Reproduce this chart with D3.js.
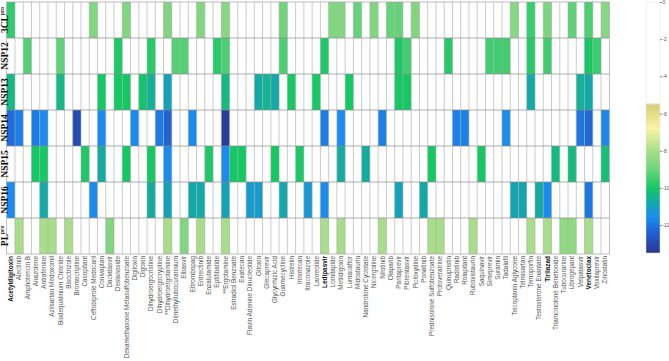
<!DOCTYPE html>
<html>
<head>
<meta charset="utf-8">
<script src="https://cdn.jsdelivr.net/npm/d3@7"></script>
<style>
  body { margin: 0; background: #fff; }
</style>
</head>
<body>
<div id="vis"></div>
<script>
const drugs = ["Acetyldigitoxin", "Alectinib", "Amphotericin B", "Anazolene", "Antrafenine",
  "Azilsartan Medoxomil", "Bisdequalinium Chloride", "Bisoctrizole", "Bromocriptine", "Casopitant",
  "Ceftobiprole Medocaril", "Conivaptan", "Daclatasvir", "Deslanoside", "Dexamethasone Metasulfobenzoate",
  "Digitoxin", "Digoxin", "Dihydroergocristine", "Dihydroergocryptine", "**Dihydroergotamine",
  "Dimethyltubocurarinium", "Elbasvir", "Eltrombopag", "Entrectinib", "Enzalutamide",
  "Eptifibatide", "**Ergotamine", "Estradiol Benzoate", "Exatecan", "Flavin Adenine Dinucleotide",
  "Gitoxin", "Glecaprevir", "Glycyrrhizic Acid", "Guamecycline", "Histrelin",
  "Irinotecan", "Itraconazole", "Lanreotide", "Ledipasvir", "Lomitapide",
  "Metildigoxin", "Lumacaftor", "Midostaurin", "Nandrolone Cyclotate", "Nicergoline",
  "Nilotinib", "Olaparib", "Paritaprevir", "Pibrentasvir", "Picloxydine",
  "Ponatinib", "Prednisolone Sulfobenzoate", "Protoveratrine", "Quinupristin", "Radotinib",
  "Rolapitant", "Ruboxistaurin", "Saquinavir", "Simeprevir", "Suramin",
  "Tadalafil", "Teicoplanin Aglycone", "Telmisartan", "Temoporfin", "Testosterone Enantate",
  "Tirilazad", "Triamcinolone Benetonide", "Tubocurarine", "Ubrogepant", "Velpatasvir",
  "Venetoclax", "Voxilaprevir", "Zinostatin"];

const boldDrugs = ["Acetyldigitoxin", "Ledipasvir", "Tirilazad", "Venetoclax"];

const targets = ["3CLpro", "NSP12", "NSP13", "NSP14", "NSP15", "NSP16", "PLpro"];

// docking scores (kcal/mol), top hits per target
const hits3CL = [["Acetyldigitoxin", -9.7], ["Ceftobiprole Medocaril", -8.7], ["Dexamethasone Metasulfobenzoate", -8.7],
  ["**Dihydroergotamine", -8.7], ["Entrectinib", -8.7], ["**Ergotamine", -8.6], ["Guamecycline", -9.0],
  ["Lomitapide", -8.7], ["Metildigoxin", -8.7], ["Midostaurin", -9.1], ["Nicergoline", -8.7],
  ["Olaparib", -9.1], ["Paritaprevir", -9.1], ["Picloxydine", -8.7], ["Teicoplanin Aglycone", -8.6],
  ["Temoporfin", -9.6], ["Tirilazad", -8.8], ["Ubrogepant", -9.2], ["Venetoclax", -9.4], ["Zinostatin", -8.6]];

const hitsNSP12 = [["Amphotericin B", -9.3], ["Bisdequalinium Chloride", -9.2], ["Deslanoside", -9.9],
  ["Dihydroergocristine", -9.8], ["Dimethyltubocurarinium", -9.3], ["Elbasvir", -9.3], ["Eptifibatide", -9.8],
  ["**Ergotamine", -9.4], ["Guamecycline", -9.4], ["Ledipasvir", -9.9], ["Paritaprevir", -9.9],
  ["Pibrentasvir", -9.5], ["Quinupristin", -9.8], ["Simeprevir", -9.5], ["Suramin", -9.5],
  ["Tadalafil", -9.5], ["Temoporfin", -9.8], ["Tirilazad", -9.5], ["Venetoclax", -10.0], ["Voxilaprevir", -9.6]];

const hitsNSP13 = [["Acetyldigitoxin", -10.4], ["Bisdequalinium Chloride", -10.4], ["Conivaptan", -10.0],
  ["Deslanoside", -10.0], ["Dexamethasone Metasulfobenzoate", -10.0], ["Digoxin", -10.1],
  ["Dihydroergocristine", -10.6], ["**Dihydroergotamine", -11.0], ["**Ergotamine", -10.3], ["Gitoxin", -10.8],
  ["Glecaprevir", -10.5], ["Glycyrrhizic Acid", -10.8], ["Histrelin", -10.0], ["Lanreotide", -10.0],
  ["Lumacaftor", -10.0], ["Paritaprevir", -10.0], ["Pibrentasvir", -10.0], ["Temoporfin", -10.8],
  ["Velpatasvir", -10.6], ["Venetoclax", -10.8]];

const hitsNSP14 = [["Acetyldigitoxin", -12.2], ["Alectinib", -11.8], ["Anazolene", -11.9], ["Antrafenine", -11.6],
  ["Bromocriptine", -12.9], ["Conivaptan", -11.6], ["Digitoxin", -11.6], ["Dihydroergocryptine", -11.9],
  ["**Dihydroergotamine", -12.4], ["Eltrombopag", -11.6], ["**Ergotamine", -13.3], ["Ledipasvir", -11.8],
  ["Metildigoxin", -11.6], ["Nilotinib", -11.8], ["Radotinib", -11.8], ["Rolapitant", -11.8],
  ["Tadalafil", -11.6], ["Velpatasvir", -12.0], ["Venetoclax", -12.3], ["Zinostatin", -11.7]];

const hitsNSP15 = [["Anazolene", -10.0], ["Antrafenine", -10.0], ["Casopitant", -9.9], ["Conivaptan", -10.7],
  ["Dexamethasone Metasulfobenzoate", -10.0], ["Dihydroergocristine", -10.0], ["**Dihydroergotamine", -11.6],
  ["Enzalutamide", -9.9], ["**Ergotamine", -11.6], ["Estradiol Benzoate", -10.0], ["Exatecan", -10.0],
  ["Glycyrrhizic Acid", -10.0], ["Irinotecan", -9.9], ["Metildigoxin", -10.7], ["Nandrolone Cyclotate", -10.7],
  ["Prednisolone Sulfobenzoate", -10.0], ["Saquinavir", -10.0], ["Triamcinolone Benetonide", -10.3],
  ["Ubrogepant", -10.3], ["Zinostatin", -10.2]];

const hitsNSP16 = [["Acetyldigitoxin", -11.6], ["Antrafenine", -10.8], ["Ceftobiprole Medocaril", -11.6],
  ["Dihydroergocristine", -10.7], ["**Dihydroergotamine", -11.0], ["Eltrombopag", -10.8], ["Entrectinib", -10.8],
  ["**Ergotamine", -11.0], ["Flavin Adenine Dinucleotide", -11.2], ["Gitoxin", -11.2], ["Guamecycline", -10.8],
  ["Itraconazole", -11.3], ["Ledipasvir", -11.6], ["Paritaprevir", -11.0], ["Ponatinib", -10.8],
  ["Teicoplanin Aglycone", -10.9], ["Telmisartan", -10.9], ["Testosterone Enantate", -10.7],
  ["Tirilazad", -11.6], ["Venetoclax", -12.0]];

const hitsPL = [["Alectinib", -8.0], ["Antrafenine", -8.0], ["Azilsartan Medoxomil", -8.0], ["Bisoctrizole", -8.0],
  ["Daclatasvir", -8.7], ["**Dihydroergotamine", -8.0], ["Elbasvir", -8.7], ["Entrectinib", -8.0],
  ["**Ergotamine", -8.0], ["Ledipasvir", -8.0], ["Metildigoxin", -8.0], ["Nilotinib", -8.0],
  ["Prednisolone Sulfobenzoate", -8.0], ["Protoveratrine", -8.0], ["Ruboxistaurin", -8.0],
  ["Temoporfin", -8.0], ["Tirilazad", -8.0], ["Tubocurarine", -8.4], ["Ubrogepant", -8.4], ["Venetoclax", -8.0]];

const legendTicks = [0, -2, -4, -6, -8, -10, -12];

const hitsByTarget = [hits3CL, hitsNSP12, hitsNSP13, hitsNSP14, hitsNSP15, hitsNSP16, hitsPL];
const cells = [];
targets.forEach((t, i) => {
  hitsByTarget[i].forEach(h => cells.push({ target: t, drug: h[0], value: h[1] }));
});

const WIDTH = 669;
const HEIGHT = 361;

const svg = d3.select("#vis").append("svg")
  .attr("width", WIDTH)
  .attr("height", HEIGHT);

const x = d3.scaleBand().domain(drugs).range([6.7, 609.3]);
const y = d3.scaleBand().domain(targets).range([2, 254]);

const color = d3.scaleLinear()
  .domain([0, -5.45, -5.5, -6.8, -8, -9, -10, -10.8, -11.6, -12.4, -13.5])
  .range(["#ffffff", "#ffffff", "#d6cd7c", "#f9f5a6", "#a8de8a", "#6fd47c", "#14c864",
          "#12a9a9", "#1a8cf0", "#1f62d0", "#2b3590"])
  .clamp(true);

// celdas
svg.append("g")
  .selectAll("rect")
  .data(cells)
  .join("rect")
  .attr("x", d => x(d.drug))
  .attr("y", d => y(d.target))
  .attr("width", x.bandwidth())
  .attr("height", y.bandwidth())
  .attr("fill", d => color(d.value));

// grilla
const grid = svg.append("g");
grid.selectAll("line.v")
  .data(drugs.slice(1))
  .join("line")
  .attr("class", "v")
  .attr("x1", d => x(d)).attr("x2", d => x(d))
  .attr("y1", 2).attr("y2", 254)
  .attr("stroke", "#a8a8a8")
  .attr("stroke-width", 0.6);

grid.selectAll("line.h")
  .data(targets.slice(1))
  .join("line")
  .attr("class", "h")
  .attr("x1", 6.7).attr("x2", 609.3)
  .attr("y1", d => y(d)).attr("y2", d => y(d))
  .attr("stroke", "#8a8a8a")
  .attr("stroke-width", 0.7);

grid.append("rect")
  .attr("x", 6.7).attr("y", 2)
  .attr("width", 609.3 - 6.7).attr("height", 252)
  .attr("fill", "none")
  .attr("stroke", "#a0a0a0")
  .attr("stroke-width", 0.7);

// etiquetas de fármacos
svg.append("g")
  .selectAll("text")
  .data(drugs)
  .join("text")
  .attr("transform", d => `translate(${x(d) + x.bandwidth() / 2}, 256) rotate(-90)`)
  .attr("text-anchor", "end")
  .attr("dy", "0.35em")
  .attr("font-family", "Liberation Sans, Arial, sans-serif")
  .attr("font-size", 6.4)
  .attr("font-weight", d => boldDrugs.includes(d) ? "bold" : "normal")
  .attr("fill", d => boldDrugs.includes(d) ? "#111" : "#555")
  .text(d => d);

// etiquetas de proteínas
const rowLabels = svg.append("g")
  .selectAll("text")
  .data(targets)
  .join("text")
  .attr("transform", d => `translate(7.8, ${y(d) + y.bandwidth() / 2}) rotate(-90)`)
  .attr("text-anchor", "middle")
  .attr("font-family", "Liberation Serif, Times New Roman, serif")
  .attr("font-weight", "bold")
  .attr("font-size", 9.5)
  .attr("fill", "#111");

rowLabels.each(function(d) {
  const t = d3.select(this);
  if (d.endsWith("pro")) {
    t.append("tspan").text(d.slice(0, -3));
    t.append("tspan").text("pro")
      .attr("font-size", 5.5)
      .attr("dy", -3.5);
  } else {
    t.text(d);
  }
});

// barra de color
const legendScale = d3.scaleLinear().domain([0, -13.5]).range([2, 253]);
const defs = svg.append("defs");
const grad = defs.append("linearGradient")
  .attr("id", "grad")
  .attr("x1", 0).attr("x2", 0)
  .attr("y1", 0).attr("y2", 1);

grad.selectAll("stop")
  .data(d3.range(0, 201).map(i => -13.5 * i / 200))
  .join("stop")
  .attr("offset", (d, i) => i / 200)
  .attr("stop-color", d => color(d));

svg.append("rect")
  .attr("x", 646).attr("y", 2)
  .attr("width", 14).attr("height", 251)
  .attr("fill", "url(#grad)")
  .attr("stroke", "#e4e4e4")
  .attr("stroke-width", 0.5);

const legendAxis = svg.append("g")
  .attr("transform", "translate(660, 0)")
  .call(d3.axisRight(legendScale)
    .tickValues(legendTicks)
    .tickSize(1.8)
    .tickPadding(0.8)
    .tickFormat(d => d === 0 ? "0" : "-" + Math.abs(d)));

legendAxis.select(".domain").remove();
legendAxis.selectAll("line").attr("stroke", "#777");
legendAxis.selectAll("text")
  .attr("font-size", 5)
  .attr("letter-spacing", -0.2)
  .attr("font-family", "Liberation Sans, Arial, sans-serif")
  .attr("fill", "#555");
</script>
</body>
</html>
